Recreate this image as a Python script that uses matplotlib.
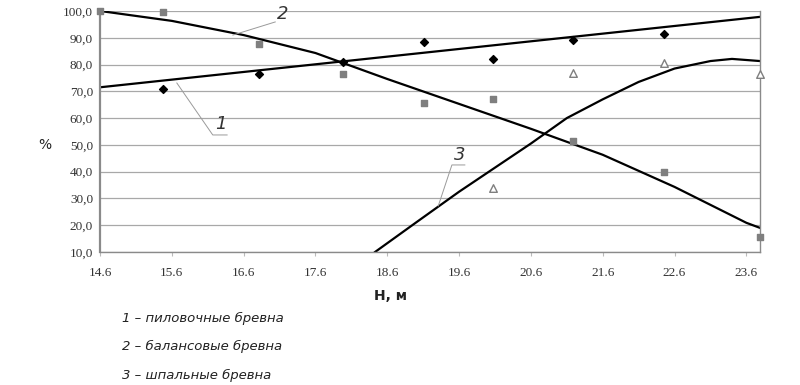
import matplotlib
matplotlib.use("Agg")
import matplotlib.pyplot as plt
from matplotlib import font_manager
from matplotlib.ticker import FuncFormatter

# scatter data (H, m -> %)
h1 = [15.48, 16.81, 17.98, 19.11, 20.07, 21.19, 22.46]
p1 = [71.0, 76.5, 81.0, 88.5, 82.0, 89.0, 91.5]

h2 = [14.6, 15.48, 16.81, 17.98, 19.11, 20.07, 21.19, 22.46, 23.79]
p2 = [100.0, 99.5, 87.5, 76.5, 65.5, 67.0, 51.5, 40.0, 15.5]

h3 = [20.07, 21.19, 22.46, 23.79]
p3 = [34.0, 77.0, 80.5, 76.5]

# trend lines
t1_x = [14.6, 23.79]
t1_y = [71.5, 97.8]
t2_x = [14.6, 15.6, 16.6, 17.6, 18.6, 19.6, 20.6, 21.6, 22.6, 23.6, 23.79]
t2_y = [100.0, 96.3, 91.0, 84.3, 74.6, 65.3, 56.0, 46.3, 34.3, 20.9, 19.0]
t3_x = [18.43, 19.0, 19.6, 20.1, 20.6, 21.1, 21.6, 22.1, 22.6, 23.1, 23.4, 23.79]
t3_y = [10.0, 21.0, 32.5, 41.5, 50.5, 60.0, 67.0, 73.5, 78.5, 81.3, 82.1, 81.3]

xticks = [14.6, 15.6, 16.6, 17.6, 18.6, 19.6, 20.6, 21.6, 22.6, 23.6]
yticks = [10, 20, 30, 40, 50, 60, 70, 80, 90, 100]

legend_lines = ["1 – пиловочные бревна", "2 – балансовые бревна", "3 – шпальные бревна"]

names = {f.name for f in font_manager.fontManager.ttflist}
narrow = "Liberation Sans Narrow" if "Liberation Sans Narrow" in names else "DejaVu Sans"
legend_size = 11 if narrow != "DejaVu Sans" else 9.5

fig = plt.figure(figsize=(8, 3.85), dpi=100)
ax = fig.add_axes([0.125, 0.3455, 0.825, 0.626])

ax.set_xlim(14.6, 23.79)
ax.set_ylim(10, 100)
ax.set_yticks(yticks)
ax.set_xticks(xticks)
ax.yaxis.set_major_formatter(FuncFormatter(lambda v, p: f"{v:.1f}".replace(".", ",")))
ax.xaxis.set_major_formatter(FuncFormatter(lambda v, p: f"{v:.1f}"))
ax.grid(axis="y", color="#a8a8a8", lw=0.9)
ax.set_axisbelow(True)
ax.spines["top"].set_visible(False)
for s in ["left", "bottom", "right"]:
    ax.spines[s].set_color("#8a8a8a")
    ax.spines[s].set_linewidth(1.0)
ax.spines["left"].set_linewidth(1.6)
ax.tick_params(axis="y", length=0, pad=5, labelsize=9.5, labelcolor="#333333")
ax.tick_params(axis="x", length=3, color="#bbbbbb", pad=8, labelsize=9.5, labelcolor="#333333")
for lab in ax.get_xticklabels() + ax.get_yticklabels():
    lab.set_family("Liberation Serif")

ax.plot(t1_x, t1_y, color="black", lw=1.6)
ax.plot(t2_x, t2_y, color="black", lw=1.6)
ax.plot(t3_x, t3_y, color="black", lw=1.6)

ax.scatter(h1, p1, marker="D", s=16, color="black", zorder=5, clip_on=False)
ax.scatter(h2, p2, marker="s", s=20, color="#7f7f7f", zorder=5, clip_on=False)
ax.scatter(h3, p3, marker="^", s=30, facecolor="white", edgecolor="#7f7f7f",
           linewidth=1.0, zorder=5, clip_on=False)

# leader lines with numbers
lc = "#9a9a9a"
ax.plot([15.67, 16.17, 16.37], [73.1, 53.7, 53.7], color=lc, lw=0.7)
ax.text(16.28, 54.5, "1", fontsize=13, style="italic", color="#333333", ha="center", va="bottom",
        family=[narrow, "DejaVu Sans"])
ax.plot([16.45, 17.04], [91.0, 95.9], color=lc, lw=0.7)
ax.text(17.15, 95.5, "2", fontsize=13, style="italic", color="#333333", ha="center", va="bottom",
        family=[narrow, "DejaVu Sans"])
ax.plot([19.31, 19.50, 19.68], [27.2, 42.5, 42.5], color=lc, lw=0.7)
ax.text(19.61, 43.0, "3", fontsize=13, style="italic", color="#333333", ha="center", va="bottom",
        family=[narrow, "DejaVu Sans"])

fig.text(45 / 800, 1 - 145 / 385, "%", fontsize=10, ha="center", va="center", color="#222222")
fig.text(390 / 800, 1 - 296 / 385, "H, м", fontsize=10, fontweight="bold", ha="center",
         va="center", color="#222222")

for i, t in enumerate(legend_lines):
    fig.text(122 / 800, 1 - (318 + 28.5 * i) / 385, t, fontsize=legend_size, style="italic",
             ha="left", va="center", color="#222222", family=[narrow, "DejaVu Sans"])

fig.savefig("out.png", dpi=100)
